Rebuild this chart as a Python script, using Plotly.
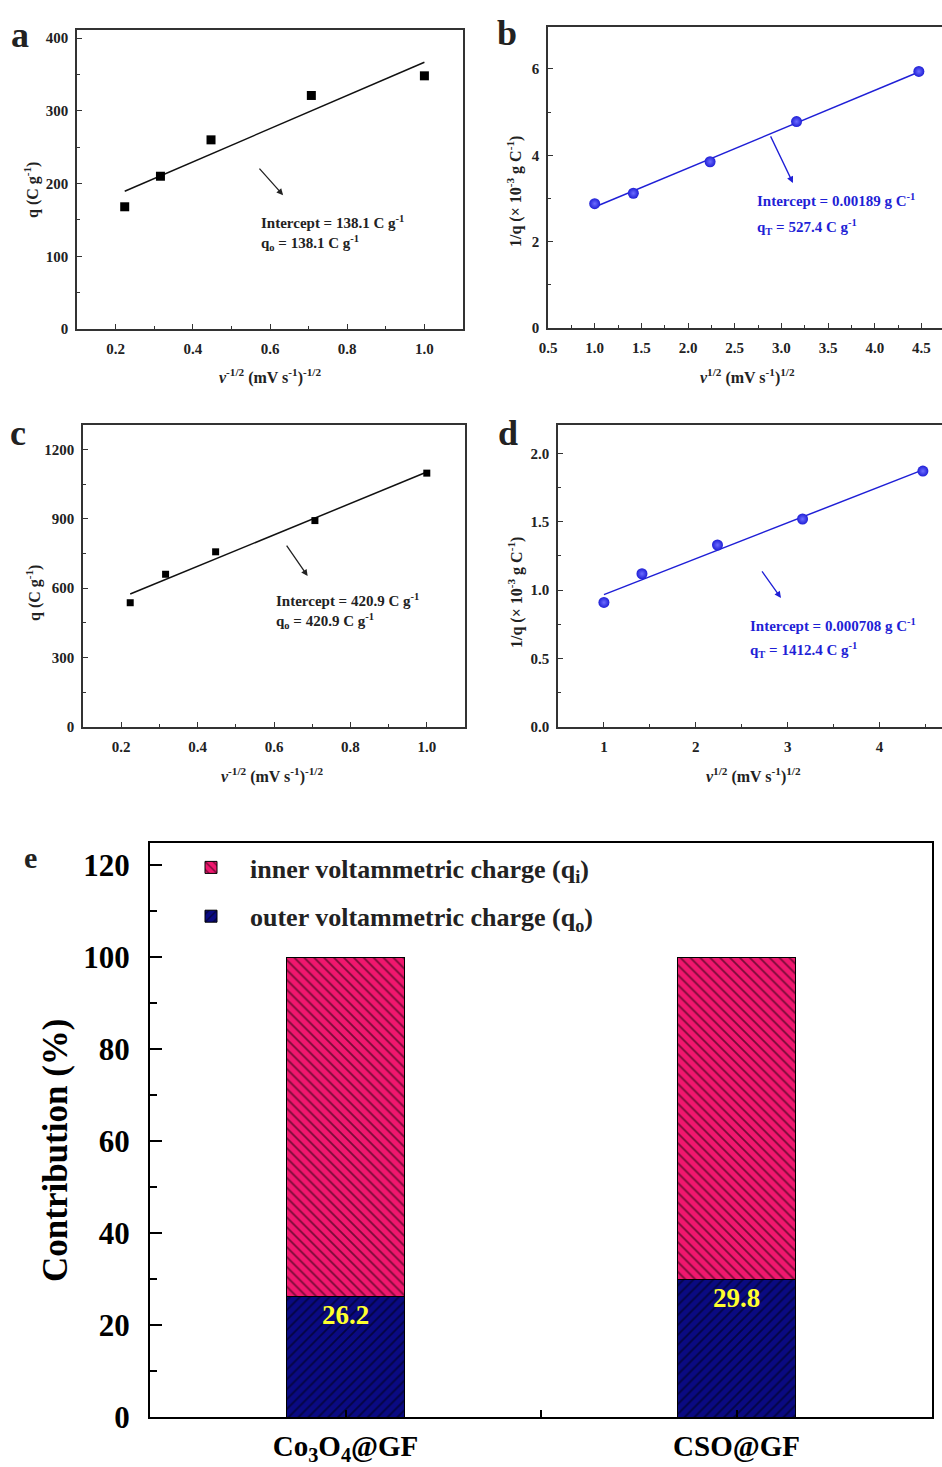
import numpy as np
import plotly.graph_objects as go

# ---------------- data ----------------
x_inv_sqrt = [0.2236, 0.3162, 0.4472, 0.7071, 1.0]      # v^-1/2
x_sqrt = [1.0, 1.414, 2.236, 3.162, 4.472]             # v^1/2
q_a = [168, 210, 260, 321, 348]                         # Co3O4@GF, q (C/g)
inv_q_b = [2.88, 3.12, 3.85, 4.78, 5.94]                # Co3O4@GF, 1/q (x1e-3)
q_c = [537, 660, 757, 892, 1097]                        # CSO@GF, q (C/g)
inv_q_d = [0.91, 1.12, 1.33, 1.52, 1.87]                # CSO@GF, 1/q (x1e-3)

categories = ["Co<sub>3</sub>O<sub>4</sub>@GF", "CSO@GF"]
outer_pct = [26.2, 29.8]
inner_pct = [73.8, 70.2]

W, H = 942, 1467
FONT = "Liberation Serif"
BLUE = "#1f1fd6"
PINK = "#f0176e"
NAVY = "#0a0a82"


def px(x):
    return x / W


def py(y):
    return 1 - y / H


fig = go.Figure()


def fit_line(xs, ys):
    k, b = np.polyfit(xs, ys, 1)
    xx = np.array([min(xs), max(xs)])
    return xx, k * xx + b


# panel a
fx, fy = fit_line(x_inv_sqrt, q_a)
fig.add_trace(go.Scatter(x=fx, y=fy, mode="lines", line=dict(color="#111", width=1.5),
                         xaxis="x", yaxis="y", showlegend=False))
fig.add_trace(go.Scatter(x=x_inv_sqrt, y=q_a, mode="markers",
                         marker=dict(symbol="square", size=9, color="black"),
                         xaxis="x", yaxis="y", showlegend=False))
# panel b
fx, fy = fit_line(x_sqrt, inv_q_b)
fig.add_trace(go.Scatter(x=fx, y=fy, mode="lines", line=dict(color=BLUE, width=1.5),
                         xaxis="x2", yaxis="y2", showlegend=False))
fig.add_trace(go.Scatter(x=x_sqrt, y=inv_q_b, mode="markers",
                         marker=dict(symbol="circle", size=11, color=BLUE,
                                     gradient=dict(type="radial", color="#6c6cff")),
                         xaxis="x2", yaxis="y2", showlegend=False))
# panel c
fx, fy = fit_line(x_inv_sqrt, q_c)
fig.add_trace(go.Scatter(x=fx, y=fy, mode="lines", line=dict(color="#111", width=1.5),
                         xaxis="x3", yaxis="y3", showlegend=False))
fig.add_trace(go.Scatter(x=x_inv_sqrt, y=q_c, mode="markers",
                         marker=dict(symbol="square", size=7, color="black"),
                         xaxis="x3", yaxis="y3", showlegend=False))
# panel d
fx, fy = fit_line(x_sqrt, inv_q_d)
fig.add_trace(go.Scatter(x=fx, y=fy, mode="lines", line=dict(color=BLUE, width=1.5),
                         xaxis="x4", yaxis="y4", showlegend=False))
fig.add_trace(go.Scatter(x=x_sqrt, y=inv_q_d, mode="markers",
                         marker=dict(symbol="circle", size=11, color=BLUE,
                                     gradient=dict(type="radial", color="#6c6cff")),
                         xaxis="x4", yaxis="y4", showlegend=False))

# panel e
xpos = list(range(len(categories)))
fig.add_trace(go.Bar(x=xpos, y=outer_pct, width=0.3, name="outer voltammetric charge (q<sub>o</sub>)",
                     marker=dict(color=NAVY, line=dict(color="black", width=1),
                                 pattern=dict(shape="/", fgcolor="black", bgcolor=NAVY,
                                              size=7, solidity=0.25)),
                     text=[f"{v:.1f}" for v in outer_pct], textposition="inside",
                     insidetextanchor="end", constraintext="none", textangle=0,
                     textfont=dict(color="#ffff2e", size=27, family=FONT, weight="bold"),
                     xaxis="x5", yaxis="y5", legendrank=2, legendgroup="o"))
fig.add_trace(go.Bar(x=xpos, y=inner_pct, width=0.3, name="inner voltammetric charge (q<sub>i</sub>)",
                     marker=dict(color=PINK, line=dict(color="black", width=1),
                                 pattern=dict(shape="\\", fgcolor="black", bgcolor=PINK,
                                              size=7, solidity=0.25)),
                     xaxis="x5", yaxis="y5", legendrank=1, legendgroup="i"))

common = dict(showline=True, linecolor="#333", linewidth=1.5, ticks="inside", ticklen=5,
              tickwidth=1.2, tickcolor="#333", showgrid=False, zeroline=False,
              automargin=False, tickfont=dict(size=15, family=FONT, weight="bold", color="#222"))


def minor(d):
    return dict(dtick=d, ticks="inside", ticklen=3, tickwidth=1, tickcolor="#333", showgrid=False)


fig.update_layout(
    width=W, height=H, margin=dict(l=0, r=0, t=0, b=0),
    plot_bgcolor="white", paper_bgcolor="white",
    font=dict(family=FONT, weight="bold", color="#222"),
    barmode="stack",
    xaxis=dict(domain=[px(77), px(463)], range=[0.1, 1.1], dtick=0.2, tick0=0, mirror=True,
               minor=minor(0.1), anchor="y", tickformat=".1f", ticklabelstandoff=5, **common),
    yaxis=dict(domain=[py(329), py(30)], range=[0, 411], dtick=100, mirror=True,
               minor=minor(50), anchor="x", ticklabelstandoff=4, **common),
    xaxis2=dict(domain=[px(548), 1.0], range=[0.5, 4.72], dtick=0.5, tick0=0, mirror=True,
                minor=minor(0.25), anchor="y2", tickformat=".1f", ticklabelstandoff=5, **common),
    yaxis2=dict(domain=[py(328), py(27)], range=[0, 6.97], dtick=2, mirror=False,
                minor=minor(1), anchor="x2", ticklabelstandoff=4, **common),
    xaxis3=dict(domain=[px(83), px(465)], range=[0.1, 1.1], dtick=0.2, tick0=0, mirror=True,
                minor=minor(0.1), anchor="y3", tickformat=".1f", ticklabelstandoff=5, **common),
    yaxis3=dict(domain=[py(727), py(425)], range=[0, 1305], dtick=300, mirror=True,
                minor=minor(150), anchor="x3", ticklabelstandoff=4, **common),
    xaxis4=dict(domain=[px(558), 1.0], range=[0.5, 4.68], dtick=1, tick0=0, mirror=True,
                minor=minor(0.5), anchor="y4", ticklabelstandoff=5, **common),
    yaxis4=dict(domain=[py(727), py(425)], range=[0, 2.207], dtick=0.5, mirror=False,
                minor=minor(0.25), anchor="x4", tickformat=".1f", ticklabelstandoff=4, **common),
    xaxis5=dict(domain=[px(150), px(932)], range=[-0.5, 1.5], tickvals=xpos, ticktext=categories,
                showline=True, linecolor="black", linewidth=2, mirror=True, ticks="inside",
                ticklen=7, tickwidth=1.5, tickcolor="black", showgrid=False, zeroline=False,
                automargin=False, anchor="y5", ticklabelstandoff=2,
                minor=dict(tickvals=[0.5], ticks="inside", ticklen=7, tickwidth=1.5,
                           tickcolor="black", showgrid=False),
                tickfont=dict(size=29, family=FONT, weight="bold", color="black")),
    yaxis5=dict(domain=[py(1417), py(843)], range=[0, 124.8], dtick=20, showline=True,
                linecolor="black", linewidth=2, mirror=True, ticks="inside", ticklen=12,
                tickwidth=1.5, tickcolor="black", showgrid=False, zeroline=False,
                automargin=False, anchor="x5", ticklabelstandoff=12,
                minor=dict(dtick=10, ticks="inside", ticklen=7, tickwidth=1.5,
                           tickcolor="black", showgrid=False),
                tickfont=dict(size=31, family=FONT, weight="bold", color="black")),
    legend=dict(x=px(172), y=py(844), xanchor="left", yanchor="top", traceorder="grouped",
                tracegroupgap=12, itemwidth=68, bgcolor="rgba(0,0,0,0)",
                font=dict(size=26, family=FONT, weight="bold", color="#222")),
    showlegend=True,
)

ann = []


def label(x, y, text, size=16, angle=0, color="#222", xanchor="center"):
    ann.append(dict(x=px(x), y=py(y), xref="paper", yref="paper", text=text, showarrow=False,
                    textangle=angle, xanchor=xanchor, yanchor="middle",
                    font=dict(size=size, family=FONT, weight="bold", color=color)))


# panel letters
label(20, 35, "a", 36)
label(507, 33, "b", 36)
label(18, 433, "c", 36)
label(508, 433, "d", 36)
label(30, 857, "e", 30)

# axis titles
xt_inv = "<i>v</i><sup>-1/2</sup> (mV s<sup>-1</sup>)<sup>-1/2</sup>"
xt_sqrt = "<i>v</i><sup>1/2</sup> (mV s<sup>-1</sup>)<sup>1/2</sup>"
yt_q = "q (C g<sup>-1</sup>)"
yt_inv = "1/q (× 10<sup>-3</sup> g C<sup>-1</sup>)"
label(270, 376, xt_inv)
label(32, 190, yt_q, angle=-90)
label(747, 376, xt_sqrt)
label(515, 192, yt_inv, angle=-90)
label(272, 775, xt_inv)
label(33, 593, yt_q, angle=-90)
label(753, 775, xt_sqrt)
label(515, 593, yt_inv, angle=-90)
label(55, 1150, "Contribution (%)", 35, angle=-90, color="black")


def note(xr, yr, x, y, text, color, size=15):
    ann.append(dict(x=x, y=y, xref=xr, yref=yr, text=text, showarrow=False, xanchor="left",
                    yanchor="middle", font=dict(size=size, family=FONT, weight="bold", color=color)))


def arrow(xr, yr, x, y, ax, ay, color):
    ann.append(dict(x=x, y=y, xref=xr, yref=yr, text="", showarrow=True, ax=ax, ay=ay,
                    arrowhead=2, arrowsize=1, arrowwidth=1.3, arrowcolor=color))


# panel a annotations
note("x", "y", 0.572, 147, "Intercept = 138.1 C g<sup>-1</sup>", "#222")
note("x", "y", 0.572, 118, "q<sub>o</sub> = 138.1 C g<sup>-1</sup>", "#222")
arrow("x", "y", 0.634, 184, -25, -28, "#222")
# panel b annotations
note("x2", "y2", 2.717, 2.96, "Intercept = 0.00189 g C<sup>-1</sup>", BLUE)
note("x2", "y2", 2.717, 2.34, "q<sub>T</sub> = 527.4 C g<sup>-1</sup>", BLUE)
arrow("x2", "y2", 3.123, 3.36, -23, -48, BLUE)
# panel c annotations
note("x3", "y3", 0.599, 549, "Intercept = 420.9 C g<sup>-1</sup>", "#222")
note("x3", "y3", 0.599, 458, "q<sub>o</sub> = 420.9 C g<sup>-1</sup>", "#222")
arrow("x3", "y3", 0.688, 652, -22, -32, "#222")
# panel d annotations
note("x4", "y4", 2.567, 0.746, "Intercept = 0.000708 g C<sup>-1</sup>", BLUE)
note("x4", "y4", 2.567, 0.563, "q<sub>T</sub> = 1412.4 C g<sup>-1</sup>", BLUE)
arrow("x4", "y4", 2.927, 0.943, -20, -28, BLUE)

fig.update_layout(annotations=ann)
fig.write_html("out.html")
